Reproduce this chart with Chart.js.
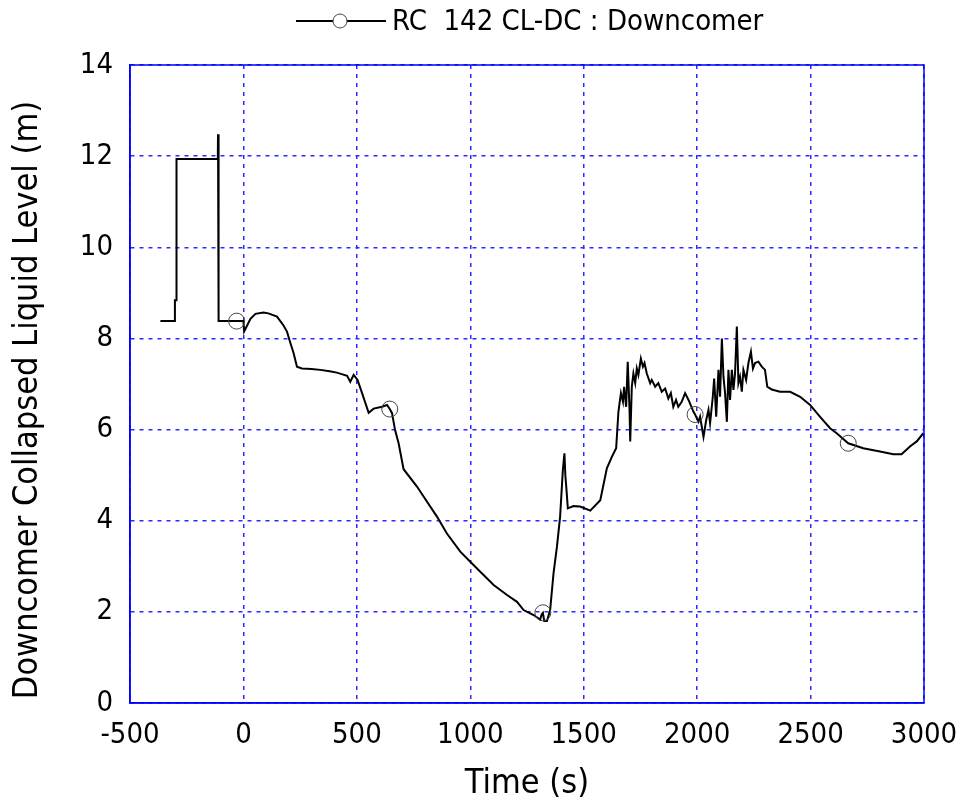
<!DOCTYPE html>
<html>
<head>
<meta charset="utf-8">
<style>
  html, body { margin: 0; padding: 0; background: #fff; }
  #wrap { width: 960px; height: 807px; }
</style>
<script src="https://cdn.jsdelivr.net/npm/chart.js@4/dist/chart.umd.min.js"></script>
</head>
<body>
<div id="wrap"><canvas id="chart" width="960" height="807"></canvas></div>
<script>
// values
const timeS = [
  -366, -304, -302, -297, -295, -200, -113, -112, -111, -108,
  -30, 0, 3, 13, 31, 53, 88, 110, 148, 176,
  192, 207, 221, 236, 258, 300, 339, 380, 412, 457,
  471, 486, 503, 523, 552, 574, 611, 633, 645, 655,
  668, 684, 706, 765, 794, 853, 897, 956, 1000, 1044,
  1103, 1162, 1206, 1235, 1279, 1308, 1315, 1320, 1326, 1338,
  1352, 1367, 1382, 1396, 1408, 1415, 1419, 1423, 1430, 1455,
  1484, 1529, 1573, 1602, 1624, 1643, 1653, 1664, 1673, 1678,
  1687, 1694, 1702, 1705, 1712, 1719, 1727, 1734, 1741, 1752,
  1761, 1768, 1778, 1793, 1800, 1815, 1829, 1844, 1859, 1873,
  1884, 1895, 1907, 1917, 1932, 1947, 1962, 1984, 1991, 2006,
  2013, 2028, 2040, 2050, 2057, 2069, 2075, 2084, 2094, 2101,
  2109, 2116, 2123, 2131, 2138, 2145, 2153, 2160, 2167, 2175,
  2182, 2189, 2197, 2204, 2216, 2226, 2237, 2246, 2255, 2270,
  2285, 2299, 2309, 2329, 2365, 2410, 2454, 2498, 2542, 2586,
  2615, 2666, 2732, 2806, 2865, 2901, 2938, 2968, 2997
];
const levelM = [
  8.38, 8.38, 8.84, 8.84, 11.94, 11.94, 11.94, 12.48, 11.90, 8.38,
  8.38, 8.38, 8.15, 8.25, 8.43, 8.54, 8.57, 8.55, 8.48, 8.29,
  8.15, 7.90, 7.68, 7.38, 7.34, 7.33, 7.31, 7.28, 7.25, 7.18,
  7.05, 7.20, 7.09, 6.80, 6.37, 6.46, 6.50, 6.54, 6.45, 6.36,
  6.00, 5.70, 5.13, 4.75, 4.53, 4.09, 3.72, 3.32, 3.10, 2.88,
  2.59, 2.37, 2.22, 2.04, 1.93, 1.83, 1.95, 1.98, 1.80, 1.80,
  2.04, 2.85, 3.43, 4.09, 5.11, 5.48, 5.00, 4.75, 4.27, 4.32,
  4.31, 4.22, 4.45, 5.15, 5.40, 5.59, 6.39, 6.80, 6.61, 6.94,
  6.50, 7.49, 6.43, 5.74, 6.94, 7.23, 7.02, 7.34, 7.20, 7.56,
  7.38, 7.46, 7.23, 7.02, 7.09, 6.94, 7.02, 6.83, 6.90, 6.68,
  6.80, 6.50, 6.65, 6.50, 6.61, 6.80, 6.65, 6.39, 6.33, 6.17,
  6.28, 5.84, 6.21, 6.43, 6.14, 6.72, 7.12, 6.28, 7.31, 6.72,
  8.00, 7.16, 6.80, 6.17, 7.31, 6.65, 7.31, 6.87, 7.23, 8.26,
  7.02, 7.16, 6.83, 7.31, 7.09, 7.46, 7.71, 7.34, 7.46, 7.49,
  7.38, 7.31, 6.94, 6.88, 6.83, 6.83, 6.72, 6.54, 6.28, 6.03,
  5.92, 5.70, 5.59, 5.52, 5.46, 5.46, 5.63, 5.74, 5.92
];
const markerTimes = [-30, 645, 1320, 1991, 2666];
const xTicks = [-500, 0, 500, 1000, 1500, 2000, 2500, 3000];
const yTicks = [0, 2, 4, 6, 8, 10, 12, 14];
const seriesLabel = "RC  142 CL-DC : Downcomer";
const yTitle = "Downcomer Collapsed Liquid Level (m)";

const FONT = "'DejaVu Sans Condensed', 'DejaVu Sans', sans-serif";
const GRID_BLUE = "#2a2aff";

const points = timeS.map((t, i) => ({ x: t, y: levelM[i] }));

// solid frame, y title and the legend (line with circle)
const frameAndLegend = {
  id: "frameAndLegend",
  afterDraw(chart) {
    const { ctx, chartArea: a } = chart;
    ctx.save();
    ctx.strokeStyle = "#0000ff";
    ctx.lineWidth = 1.5;
    ctx.strokeRect(a.left, a.top, a.right - a.left, a.bottom - a.top);

    ctx.fillStyle = "#000";
    ctx.font = "34px " + FONT;
    ctx.textAlign = "center";
    ctx.textBaseline = "middle";
    ctx.translate(28, 400);
    ctx.rotate(-Math.PI / 2);
    ctx.fillText(yTitle, 0, 0);
    ctx.restore();

    ctx.save();
    const y = 21;
    ctx.strokeStyle = "#000";
    ctx.lineWidth = 2;
    ctx.beginPath();
    ctx.moveTo(296, y);
    ctx.lineTo(386, y);
    ctx.stroke();
    ctx.fillStyle = "#fff";
    ctx.strokeStyle = "#444";
    ctx.lineWidth = 1;
    ctx.beginPath();
    ctx.arc(340, y, 7, 0, Math.PI * 2);
    ctx.fill();
    ctx.stroke();
    ctx.fillStyle = "#000";
    ctx.font = "29px " + FONT;
    ctx.textBaseline = "middle";
    ctx.fillText(seriesLabel, 392, y + 1);
    ctx.restore();
  }
};

new Chart(document.getElementById("chart"), {
  type: "scatter",
  data: {
    datasets: [{
      label: seriesLabel,
      data: points,
      showLine: true,
      borderColor: "#000",
      borderWidth: 2,
      tension: 0,
      pointRadius: (c) => (c.raw && markerTimes.includes(c.raw.x) ? 8 : 0),
      pointBackgroundColor: "rgba(0,0,0,0)",
      pointBorderColor: "#444",
      pointBorderWidth: 1,
      pointHoverRadius: 0
    }]
  },
  options: {
    responsive: false,
    animation: false,
    layout: { padding: { top: 65, right: 36, left: 0, bottom: 0 } },
    plugins: {
      legend: { display: false },
      tooltip: { enabled: false }
    },
    scales: {
      x: {
        type: "linear",
        min: -500,
        max: 3000,
        afterBuildTicks: (s) => { s.ticks = xTicks.map((v) => ({ value: v })); },
        afterFit: (s) => {
          s.height = 104;
          s.paddingLeft = 0;
          s.paddingRight = 0;
        },
        grid: { color: GRID_BLUE, lineWidth: 1.5, drawTicks: false },
        border: { color: "#0000ff", width: 1.5, dash: [4, 5] },
        ticks: {
          color: "#000",
          font: { family: FONT, size: 29 },
          padding: 15,
          maxRotation: 0,
          callback: (v) => String(v)
        },
        title: {
          display: true,
          text: "Time (s)",
          color: "#000",
          font: { family: FONT, size: 34 },
          padding: { top: 0, bottom: 2 }
        }
      },
      y: {
        min: 0,
        max: 14,
        afterBuildTicks: (s) => { s.ticks = yTicks.map((v) => ({ value: v })); },
        afterFit: (s) => { s.width = 130; },
        grid: { color: GRID_BLUE, lineWidth: 1.5, drawTicks: false },
        border: { color: "#0000ff", width: 1.5, dash: [4, 5] },
        ticks: {
          color: "#000",
          font: { family: FONT, size: 29 },
          padding: 17,
          callback: (v) => String(v)
        }
      }
    }
  },
  plugins: [frameAndLegend]
});
</script>
</body>
</html>
